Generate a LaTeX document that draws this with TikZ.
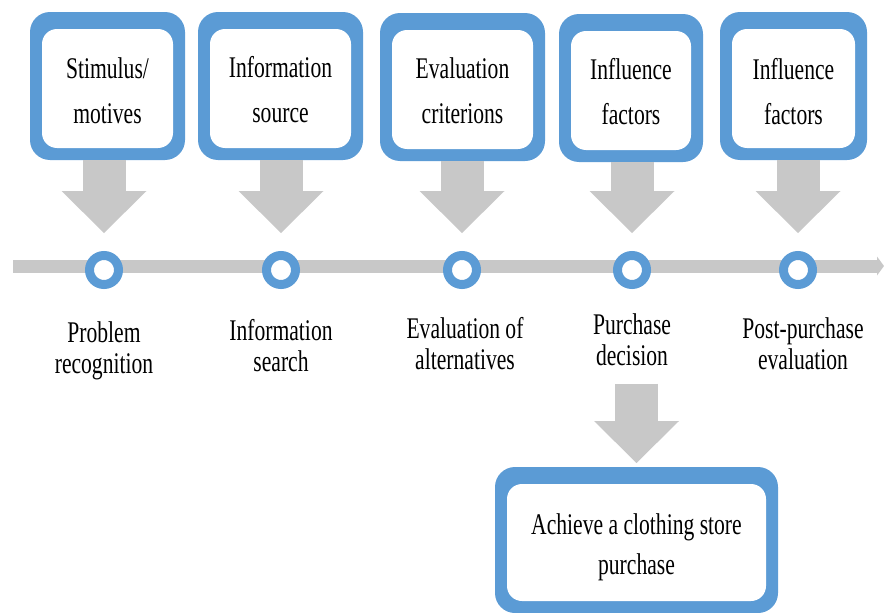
\documentclass[tikz,border=0pt]{standalone}
\usepackage{fontspec}
\setmainfont[FakeStretch=0.72]{Liberation Serif}
\usetikzlibrary{arrows.meta,positioning}
\definecolor{stepblue}{RGB}{91,155,213}
\definecolor{flowgray}{RGB}{200,200,200}
\newcommand{\firstline}[1]{\rule{0pt}{#1}}
\tikzset{
  factorbox/.style={fill=stepblue, rounded corners=20pt, outer sep=0pt, inner sep=0pt,
    align=center, minimum height=148pt, font=\fontsize{30}{45}\selectfont,
    path picture={\fill[white, rounded corners=15pt]
      ([xshift=12pt,yshift=12pt]path picture bounding box.south west) rectangle
      ([xshift=-12pt,yshift=-17pt]path picture bounding box.north east);}},
  stagedot/.style={circle, draw=stepblue, line width=9pt, fill=white, minimum size=29pt, inner sep=0pt},
  stagelabel/.style={align=center, inner sep=0pt, font=\fontsize{30}{31}\selectfont},
  flowarrow/.style={draw=flowgray, line width=43pt,
    -{Triangle[length=42pt,width=85pt,line width=0pt]}, shorten >=18pt},
}
\begin{document}
\begin{tikzpicture}[x=1pt,y=-1pt]
        \useasboundingbox (0,0) rectangle (884,613);
        \node[factorbox, minimum width=155pt] (b1) at (107.5,86) {\firstline{31pt}Stimulus/\\motives};
        \node[factorbox, minimum width=165pt] (b2) at (280.5,86) {\firstline{29pt}Information\\source};
        \node[factorbox, minimum width=165pt] (b3) at (462.5,87) {\firstline{29pt}Evaluation\\criterions};
        \node[factorbox, minimum width=144pt] (b4) at (631,88) {\firstline{29pt}Influence\\factors};
        \node[factorbox, minimum width=147pt] (b5) at (793.5,86) {\firstline{33pt}Influence\\factors};
        \coordinate (tl0) at (13,266);
        \coordinate (tl1) at (884,266);
        \draw[flowgray, line width=13pt, -{Triangle[length=7pt,width=19pt,line width=0pt]}] (tl0) -- (tl1);
        \node[stagedot] (c1) at (104,270) {};
        \node[stagedot] (c2) at (281,270) {};
        \node[stagedot] (c3) at (462,270) {};
        \node[stagedot] (c4) at (632,270) {};
        \node[stagedot] (c5) at (798,270) {};
        \draw[flowarrow] (c1 |- b1.south) -- (c1.north);
        \draw[flowarrow] (c2 |- b2.south) -- (c2.north);
        \draw[flowarrow] (c3 |- b3.south) -- (c3.north);
        \draw[flowarrow] (c4 |- b4.south) -- (c4.north);
        \draw[flowarrow] (c5 |- b5.south) -- (c5.north);
        \node[stagelabel, below=32pt of c1] (l1) {Problem\\recognition};
        \node[stagelabel, below=30pt of c2] (l2) {Information\\search};
        \node[stagelabel, below=28pt of c3, xshift=3pt] (l3) {Evaluation of\\alternatives};
        \node[stagelabel, below=24pt of c4] (l4) {Purchase\\decision};
        \node[stagelabel, below=28pt of c5, xshift=5pt] (l5) {Post-purchase\\evaluation};
        \node[factorbox, minimum width=283pt, minimum height=146pt, font=\fontsize{30}{40}\selectfont]
          (b6) at (636.5,540) {\firstline{36pt}Achieve a clothing store\\purchase};
        \draw[flowarrow, shorten <=18pt, shorten >=4pt] (l4.south -| b6.north) -- (b6.north);
\end{tikzpicture}
\end{document}
